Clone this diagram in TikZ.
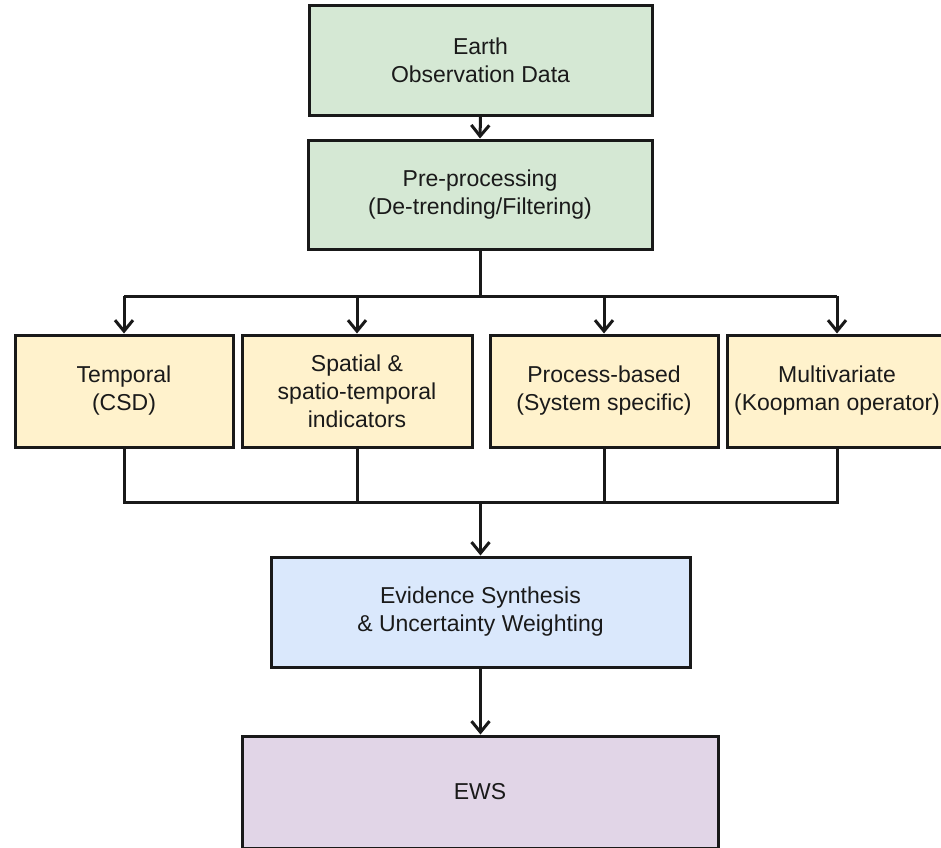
\documentclass[tikz,border=0pt]{standalone}
\usepackage{fontspec}
\setmainfont{Liberation Sans}
\usetikzlibrary{arrows.meta,calc}
\definecolor{cgreen}{HTML}{D5E8D4}
\definecolor{cyellow}{HTML}{FFF2CC}
\definecolor{cblue}{HTML}{DAE8FC}
\definecolor{cpurple}{HTML}{E1D5E7}
\definecolor{ctext}{HTML}{1A1A1A}
\tikzset{
  box/.style={draw=black!90, line width=3pt, align=center, inner sep=0pt,
    font=\fontsize{23}{28}\selectfont, text=ctext},
  conn/.style={line width=3pt, draw=black!90},
  arr/.style={conn, -{Straight Barb[length=11pt,width=18pt,line width=3pt]}},
}
\begin{document}
\begin{tikzpicture}[x=1pt,y=-1pt]
\useasboundingbox (0,0) rectangle (941,847);
\node[box, fill=cgreen, minimum width=343pt, minimum height=110pt] (earth) at (480.5,60) {Earth\\Observation Data};
\node[box, fill=cgreen, minimum width=344pt, minimum height=109pt] (pre) at (480,194.5) {Pre-processing\\(De-trending/Filtering)};
\node[box, fill=cyellow, minimum width=218pt, minimum height=112pt] (temporal) at (124,391) {Temporal\\(CSD)};
\node[box, fill=cyellow, minimum width=230pt, minimum height=112pt] (spatial) at (357,391) {Spatial \&\\spatio-temporal\\indicators};
\node[box, fill=cyellow, minimum width=228pt, minimum height=112pt] (process) at (604,391) {Process-based\\(System specific)};
\node[box, fill=cyellow, minimum width=220pt, minimum height=112pt] (multi) at (837,391) {Multivariate\\(Koopman operator)};
\node[box, fill=cblue, minimum width=419pt, minimum height=110pt] (evid) at (480.5,612) {Evidence Synthesis\\\& Uncertainty Weighting};
\node[box, fill=cpurple, minimum width=476pt, minimum height=112pt] (ews) at (480,792) {EWS};

\coordinate (jt) at (480,296);
\coordinate (jb) at (480.5,502);

\draw[arr] (earth.south) -- (pre.north);
\draw[conn] (pre.south) -- (jt);
\draw[conn] (temporal.north |- jt) -- (multi.north |- jt);
\draw[arr] (temporal.north |- jt) -- (temporal.north);
\draw[arr] (spatial.north |- jt) -- (spatial.north);
\draw[arr] (process.north |- jt) -- (process.north);
\draw[arr] (multi.north |- jt) -- (multi.north);

\draw[conn] (temporal.south) -- (temporal.south |- jb) -- (multi.south |- jb) -- (multi.south);
\draw[conn] (spatial.south) -- (spatial.south |- jb);
\draw[conn] (process.south) -- (process.south |- jb);
\draw[arr] (jb) -- (evid.north);
\draw[arr] (evid.south) -- (ews.north -| evid.south);
\end{tikzpicture}
\end{document}
